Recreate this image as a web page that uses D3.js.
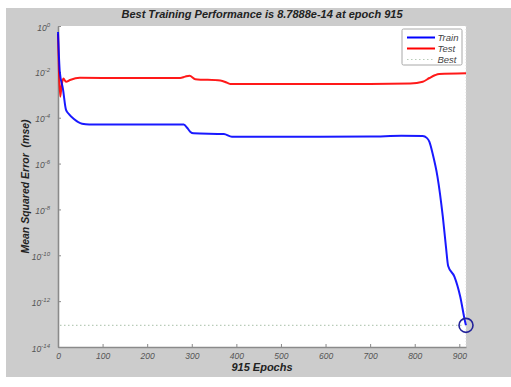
<!DOCTYPE html>
<html>
<head>
<meta charset="utf-8">
<script src="https://cdn.jsdelivr.net/npm/d3@7/dist/d3.min.js"></script>
<style>
  html, body { margin: 0; padding: 0; background: #ffffff; }
  svg { display: block; }
  text { font-family: "Liberation Sans", Arial, Helvetica, sans-serif; }
</style>
</head>
<body>
<svg id="chart" width="511" height="387"></svg>
<script>
// Training record of the network: epoch and mean squared error per series
const trainEpochs = [0, 4, 11, 18, 25, 35, 54, 70, 150, 250, 282, 290, 297, 304, 372, 390, 500, 700, 770, 818, 827, 833, 840, 851, 863, 870, 875, 889, 902, 913, 915];
const trainMse = [0.55, 1e-2, 1.86e-3, 2.19e-4, 1.41e-4, 9.1e-5, 5.5e-5, 5.1e-5, 5.1e-5, 5.1e-5, 5.0e-5, 3.55e-5, 2.4e-5, 2.09e-5, 1.95e-5, 1.48e-5, 1.48e-5, 1.51e-5, 1.62e-5, 1.58e-5, 1.32e-5, 8.9e-6, 2.8e-6, 2.7e-7, 4.8e-9, 2.4e-10, 3.4e-11, 1.17e-11, 1.6e-12, 1.26e-13, 8.7888e-14];

const testEpochs = [0, 2, 5, 8, 12, 18, 27, 49, 150, 274, 285, 295, 308, 364, 380, 387, 500, 700, 790, 818, 833, 845, 855, 915];
const testMse = [0.45, 1.26e-2, 8.3e-4, 2.5e-3, 5.1e-3, 3.7e-3, 4.4e-3, 5.5e-3, 5.4e-3, 5.4e-3, 6.2e-3, 6.8e-3, 4.8e-3, 4.2e-3, 3.3e-3, 2.95e-3, 2.95e-3, 2.95e-3, 3.1e-3, 3.7e-3, 5.4e-3, 7.1e-3, 8.1e-3, 8.7e-3];

const bestEpoch = 915;
const bestMse = 8.7888e-14;
const totalEpochs = 915;

const xTicks = [0, 100, 200, 300, 400, 500, 600, 700, 800, 900];
const yTickExponents = [0, -2, -4, -6, -8, -10, -12, -14];

const legendNames = ["Train", "Test", "Best"];
const legendColors = ["#0000ff", "#ff0000", "#b9ccb9"];

const svg = d3.select("#chart");

// Figure background
svg.append("rect").attr("x", 6).attr("y", 8).attr("width", 505).attr("height", 369).attr("fill", "#cccccc");

const plot = { left: 58, top: 26, right: 466, bottom: 347 };

const x = d3.scaleLinear().domain([0, totalEpochs]).range([plot.left, plot.right]);
const y = d3.scaleLog().domain([1e-14, 1]).range([plot.bottom, plot.top]);

// Axes area
svg.append("rect")
  .attr("x", plot.left).attr("y", plot.top)
  .attr("width", plot.right - plot.left).attr("height", plot.bottom - plot.top)
  .attr("fill", "#ffffff");

svg.append("line")
  .attr("x1", plot.right).attr("x2", plot.right).attr("y1", plot.top).attr("y2", plot.bottom)
  .attr("stroke", "#dcdcdc").attr("stroke-width", 1).attr("stroke-dasharray", "1,2");

// X axis with inward ticks
const xAxis = d3.axisBottom(x).tickValues(xTicks).tickSizeInner(-3).tickSizeOuter(0).tickPadding(6);
const gx = svg.append("g").attr("transform", `translate(0,${plot.bottom})`).call(xAxis);
gx.select(".domain").attr("stroke", "#8a8a8a").attr("stroke-width", 1.6);
gx.selectAll(".tick line").attr("stroke", "#8a8a8a");
gx.selectAll(".tick text")
  .attr("fill", "#555").attr("font-size", 8.5).attr("font-style", "italic")
  .attr("font-family", "'Liberation Sans', Arial, sans-serif");

// Y axis (log) with power-of-ten labels
const yAxis = d3.axisLeft(y).tickValues(yTickExponents.map(e => Math.pow(10, e)))
  .tickSizeInner(-3).tickSizeOuter(0).tickFormat("");
const gy = svg.append("g").attr("transform", `translate(${plot.left},0)`).call(yAxis);
gy.select(".domain").attr("stroke", "#8a8a8a").attr("stroke-width", 1.6);
gy.selectAll(".tick line").attr("stroke", "#8a8a8a");
gy.selectAll(".tick").each(function(d, i) {
  const t = d3.select(this).append("text")
    .attr("x", -8).attr("y", 4)
    .attr("text-anchor", "end")
    .attr("fill", "#555").attr("font-size", 8.5).attr("font-style", "italic")
    .attr("font-family", "'Liberation Sans', Arial, sans-serif");
  t.append("tspan").text("10");
  t.append("tspan").attr("dy", -4).attr("font-size", 6).text(String(yTickExponents[i]).replace("-", "-"));
});

// Best performance reference line
svg.append("line")
  .attr("x1", plot.left + 2).attr("x2", plot.right - 2)
  .attr("y1", y(bestMse)).attr("y2", y(bestMse))
  .attr("stroke", legendColors[2]).attr("stroke-width", 1.2).attr("stroke-dasharray", "1.5,2.5");

const line = d3.line().x(d => x(d[0])).y(d => y(d[1])).curve(d3.curveMonotoneX);

const trainData = d3.zip(trainEpochs, trainMse);
const testData = d3.zip(testEpochs, testMse);

svg.append("path").datum(testData)
  .attr("d", line).attr("fill", "none")
  .attr("stroke", legendColors[1]).attr("stroke-width", 2).attr("stroke-opacity", 0.9);

svg.append("path").datum(trainData)
  .attr("d", line).attr("fill", "none")
  .attr("stroke", legendColors[0]).attr("stroke-width", 2).attr("stroke-opacity", 0.9);

// Marker at the best epoch
svg.append("circle")
  .attr("cx", x(bestEpoch)).attr("cy", y(bestMse)).attr("r", 7)
  .attr("fill", "none").attr("stroke", "#22229a").attr("stroke-width", 1.6);

// Legend
const lg = svg.append("g");
lg.append("rect").attr("x", 402).attr("y", 29).attr("width", 60).attr("height", 36)
  .attr("fill", "#ffffff").attr("stroke", "#a8a8a8").attr("stroke-width", 1).attr("rx", 1.5);
const legendY = [37.5, 48.5, 59.5];
legendNames.forEach((name, i) => {
  lg.append("line")
    .attr("x1", 407).attr("x2", 435).attr("y1", legendY[i]).attr("y2", legendY[i])
    .attr("stroke", legendColors[i])
    .attr("stroke-width", i < 2 ? 2 : 1.2)
    .attr("stroke-dasharray", i < 2 ? null : "1.5,2.5");
  lg.append("text")
    .attr("x", 437.5).attr("y", legendY[i] + 3.5)
    .attr("fill", "#444").attr("font-size", 9.5).attr("font-style", "italic")
    .text(name);
});

// Titles
svg.append("text")
  .attr("x", 262).attr("y", 18)
  .attr("text-anchor", "middle")
  .attr("font-size", 11).attr("font-weight", "bold").attr("font-style", "italic")
  .attr("fill", "#222")
  .text(`Best Training Performance is ${bestMse.toExponential(4)} at epoch ${bestEpoch}`);

svg.append("text")
  .attr("x", 262).attr("y", 371)
  .attr("text-anchor", "middle")
  .attr("font-size", 11).attr("font-weight", "bold").attr("font-style", "italic")
  .attr("fill", "#222")
  .text(`${totalEpochs} Epochs`);

svg.append("text")
  .attr("transform", `translate(29,${(plot.top + plot.bottom) / 2}) rotate(-90)`)
  .attr("text-anchor", "middle")
  .attr("font-size", 10.5).attr("font-weight", "bold").attr("font-style", "italic")
  .attr("fill", "#222")
  .attr("xml:space", "preserve")
  .text("Mean Squared Error  (mse)");
</script>
</body>
</html>
